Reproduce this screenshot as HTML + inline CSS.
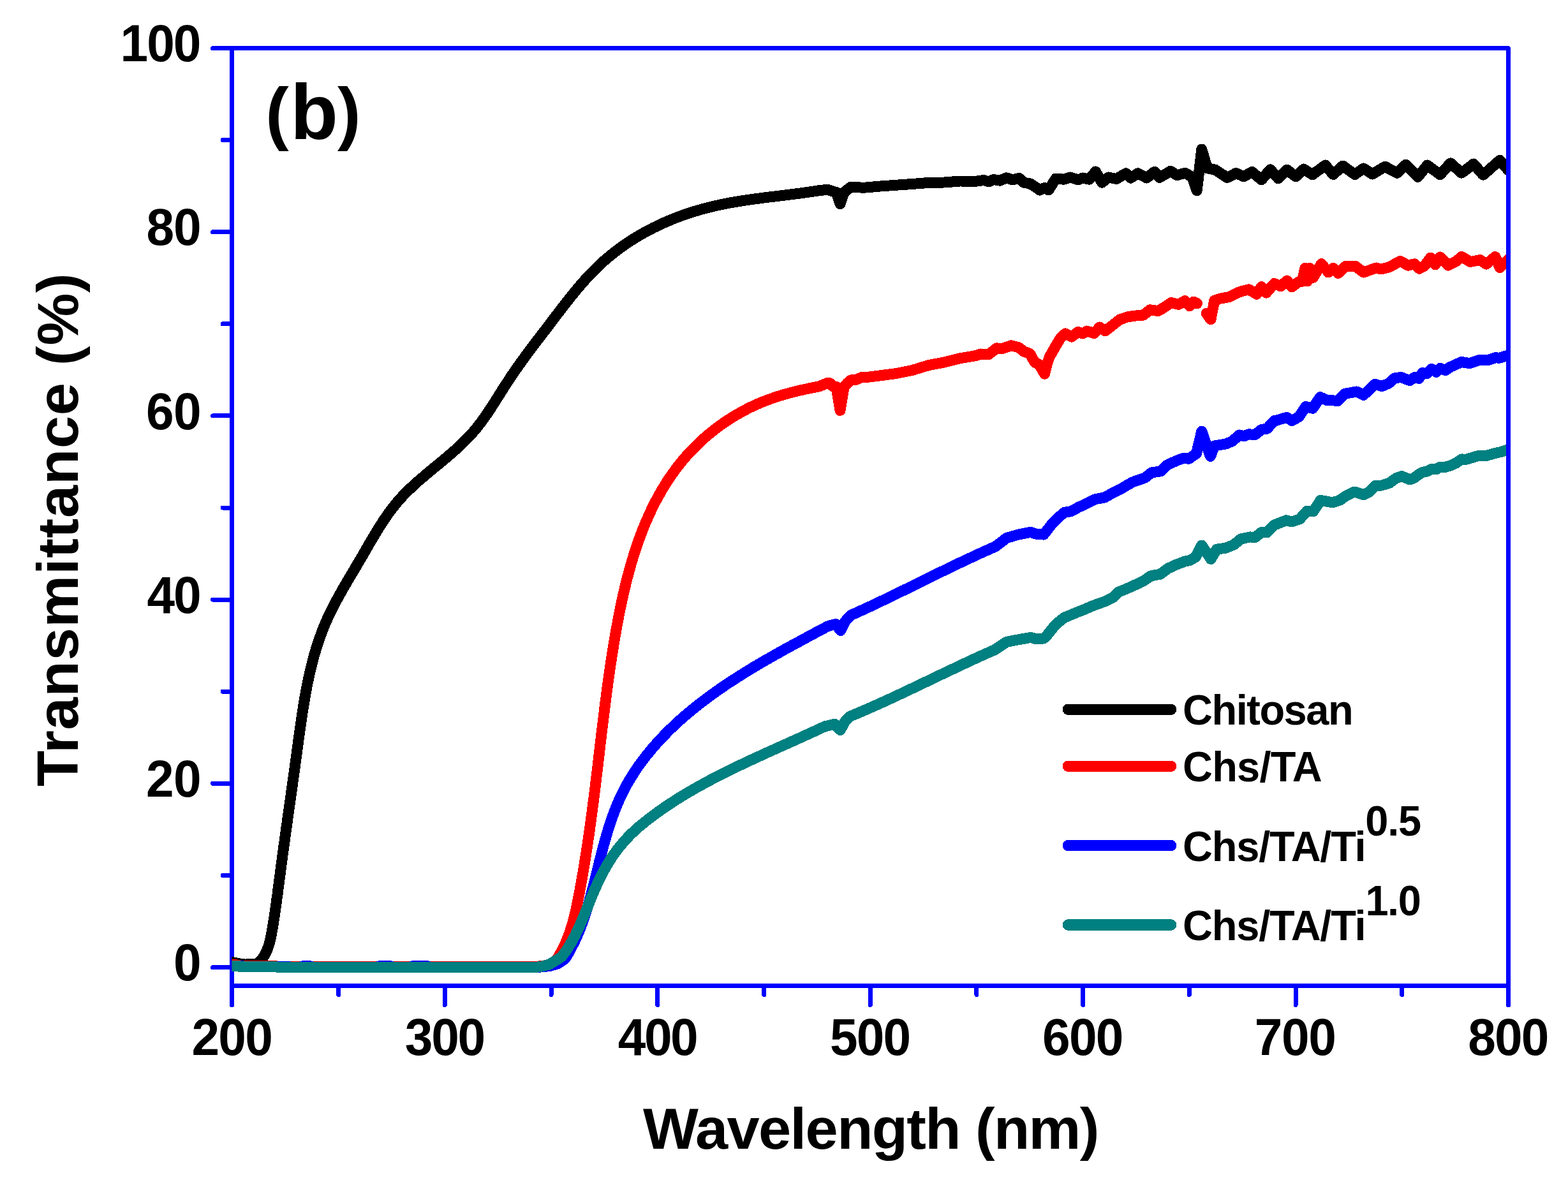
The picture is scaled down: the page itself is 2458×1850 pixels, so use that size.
<!DOCTYPE html>
<html lang="en"><head><meta charset="utf-8"><title>Transmittance vs Wavelength (b)</title>
<style>html,body{margin:0;padding:0;background:#fff;overflow:hidden}svg{display:block}</style></head>
<body>
<svg xmlns="http://www.w3.org/2000/svg" width="2458" height="1850" viewBox="0 0 2458 1850">
<rect width="2458" height="1850" fill="#fff"/>
<path d="M363.5,75.5 V1575.5" stroke="#0000ff" stroke-width="7" stroke-linecap="round" fill="none" shape-rendering="crispEdges"/>
<clipPath id="cp"><rect x="363.5" y="75.5" width="2001.0" height="1470.0"/></clipPath>
<g clip-path="url(#cp)" fill="none" stroke-width="17.0" stroke-linejoin="round" stroke-linecap="round" shape-rendering="crispEdges">
<path d="M363.5,1508.4L372,1510.3L383.5,1512.1L393,1511.6L402.7,1511.8L405,1509.8L407.2,1507.7L409.2,1505.4L411,1503.1L412.7,1500.8L414.2,1498.3L415.7,1495.8L417,1493.2L418.2,1490.6L419.3,1487.9L420.3,1485.2L421.2,1482.4L422.1,1479.6L422.8,1476.7L423.6,1473.8L424.2,1470.9L424.8,1468L425.4,1465L425.9,1462L426.5,1459.1L427,1456.1L427.5,1453.1L428,1450.1L428.5,1447.1L428.9,1444.1L429.4,1441.1L429.9,1438.1L430.3,1435.2L430.8,1432.2L431.2,1429.2L431.6,1426.2L432.1,1423.2L432.5,1420.2L432.9,1417.2L433.3,1414.2L433.7,1411.2L434.1,1408.2L434.6,1405.2L435,1402.2L435.4,1399.2L435.7,1396.2L436.1,1393.2L436.5,1390.2L436.9,1387.2L437.3,1384.2L437.7,1381.2L438.1,1378.2L438.5,1375.2L438.9,1372.2L439.3,1369.2L439.7,1366.2L440,1363.2L440.4,1360.2L440.8,1357.2L441.2,1354.3L441.6,1351.3L442,1348.3L442.4,1345.3L442.8,1342.3L443.2,1339.4L443.6,1336.4L444,1333.4L444.4,1330.4L444.8,1327.4L445.3,1324.5L445.7,1321.5L446.1,1318.5L446.5,1315.6L446.9,1312.6L447.3,1309.6L447.7,1306.6L448.1,1303.7L448.5,1300.7L448.9,1297.7L449.4,1294.8L449.8,1291.8L450.2,1288.8L450.6,1285.9L451,1282.9L451.4,1279.9L451.8,1277L452.3,1274L452.7,1271L453.1,1268.1L453.5,1265.1L453.9,1262.1L454.3,1259.2L454.8,1256.2L455.2,1253.2L455.6,1250.3L456,1247.3L456.4,1244.3L456.8,1241.3L457.3,1238.4L457.7,1235.4L458.1,1232.4L458.5,1229.5L458.9,1226.5L459.3,1223.5L459.7,1220.5L460.2,1217.6L460.6,1214.6L461,1211.6L461.4,1208.6L461.8,1205.7L462.2,1202.7L462.6,1199.7L463,1196.7L463.5,1193.7L463.9,1190.7L464.3,1187.8L464.7,1184.8L465.1,1181.8L465.5,1178.8L465.9,1175.8L466.3,1172.8L466.7,1169.8L467.1,1166.8L467.5,1163.8L467.9,1160.8L468.3,1157.8L468.7,1154.8L469.1,1151.8L469.6,1148.8L470,1145.8L470.4,1142.8L470.8,1139.8L471.2,1136.8L471.7,1133.8L472.1,1130.8L472.5,1127.8L473,1124.8L473.4,1121.8L473.8,1118.9L474.3,1115.9L474.8,1112.9L475.2,1109.9L475.7,1106.9L476.2,1103.9L476.7,1100.9L477.2,1097.9L477.7,1095L478.2,1092L478.7,1089L479.3,1086L479.8,1083.1L480.4,1080.1L480.9,1077.1L481.5,1074.2L482.1,1071.2L482.7,1068.3L483.3,1065.3L483.9,1062.4L484.6,1059.5L485.2,1056.5L485.9,1053.6L486.6,1050.7L487.3,1047.7L488,1044.8L488.7,1041.9L489.4,1039L490.2,1036.1L490.9,1033.2L491.7,1030.3L492.5,1027.5L493.3,1024.6L494.2,1021.7L495,1018.9L495.9,1016L496.8,1013.2L497.7,1010.3L498.6,1007.5L499.6,1004.7L500.6,1001.8L501.5,999L502.6,996.2L503.6,993.4L504.6,990.6L505.7,987.9L506.8,985.1L507.9,982.3L509.1,979.6L510.2,976.8L511.4,974.1L512.6,971.4L513.9,968.6L515.1,965.9L516.4,963.2L517.7,960.5L519,957.8L520.4,955.1L521.7,952.5L523.1,949.8L524.5,947.1L525.9,944.5L527.3,941.8L528.7,939.2L530.1,936.5L531.6,933.9L533.1,931.3L534.5,928.6L536,926L537.5,923.4L539,920.7L540.5,918.1L542.1,915.5L543.6,912.9L545.1,910.3L546.7,907.7L548.2,905.1L549.7,902.4L551.3,899.8L552.8,897.2L554.4,894.6L555.9,892L557.5,889.4L559,886.8L560.6,884.2L562.1,881.6L563.7,878.9L565.2,876.3L566.7,873.7L568.3,871.1L569.8,868.5L571.3,865.8L572.8,863.2L574.4,860.6L575.9,857.9L577.4,855.3L578.9,852.7L580.4,850.1L582,847.5L583.5,844.9L585,842.3L586.6,839.7L588.1,837.1L589.7,834.5L591.2,831.9L592.8,829.4L594.4,826.8L596,824.3L597.6,821.8L599.3,819.2L600.9,816.7L602.6,814.2L604.2,811.8L605.9,809.3L607.6,806.9L609.4,804.4L611.1,802L612.9,799.7L614.7,797.3L616.5,794.9L618.4,792.6L620.2,790.3L622.1,788L624.1,785.7L626,783.5L628,781.3L630,779.1L632,776.9L634.1,774.8L636.2,772.7L638.3,770.5L640.4,768.5L642.6,766.4L644.7,764.3L646.9,762.3L649.1,760.2L651.3,758.2L653.6,756.2L655.8,754.2L658.1,752.3L660.4,750.3L662.7,748.3L665,746.4L667.3,744.4L669.6,742.5L671.9,740.5L674.2,738.6L676.6,736.7L678.9,734.8L681.2,732.8L683.6,730.9L685.9,729L688.2,727.1L690.6,725.1L692.9,723.2L695.2,721.3L697.5,719.3L699.9,717.4L702.2,715.4L704.5,713.4L706.8,711.5L709,709.5L711.3,707.5L713.6,705.5L715.8,703.5L718,701.5L720.2,699.4L722.4,697.4L724.6,695.3L726.7,693.2L728.9,691.1L731,688.9L733.1,686.8L735.1,684.6L737.2,682.4L739.2,680.2L741.2,678L743.1,675.7L745.1,673.4L747,671.1L748.9,668.8L750.7,666.4L752.5,664.1L754.3,661.7L756.1,659.2L757.9,656.8L759.6,654.4L761.3,651.9L763.1,649.4L764.8,646.9L766.4,644.4L768.1,641.9L769.8,639.4L771.4,636.8L773,634.3L774.7,631.8L776.3,629.2L777.9,626.6L779.5,624.1L781.1,621.5L782.7,619L784.3,616.4L785.9,613.8L787.5,611.3L789.2,608.7L790.8,606.2L792.4,603.6L794,601.1L795.7,598.6L797.3,596.1L799,593.6L800.6,591.1L802.3,588.6L804,586.1L805.7,583.6L807.4,581.2L809.1,578.7L810.8,576.3L812.5,573.8L814.3,571.4L816,569L817.7,566.5L819.5,564.1L821.3,561.7L823,559.3L824.8,556.9L826.6,554.5L828.3,552.1L830.1,549.7L831.9,547.3L833.7,544.9L835.5,542.5L837.3,540.2L839.1,537.8L840.9,535.4L842.7,533L844.6,530.6L846.4,528.3L848.2,525.9L850,523.5L851.8,521.1L853.7,518.7L855.5,516.4L857.3,514L859.1,511.6L861,509.2L862.8,506.8L864.6,504.4L866.4,502L868.2,499.6L870.1,497.2L871.9,494.8L873.7,492.4L875.6,490L877.4,487.6L879.2,485.2L881.1,482.8L882.9,480.4L884.8,478L886.6,475.6L888.5,473.2L890.4,470.9L892.2,468.5L894.1,466.1L896,463.8L897.9,461.4L899.8,459.1L901.7,456.7L903.7,454.4L905.6,452.1L907.6,449.8L909.5,447.5L911.5,445.2L913.5,442.9L915.5,440.7L917.5,438.4L919.5,436.2L921.5,434L923.6,431.8L925.6,429.6L927.7,427.5L929.8,425.3L931.9,423.2L934,421.1L936.2,419L938.3,416.9L940.5,414.8L942.7,412.8L944.9,410.8L947.2,408.8L949.4,406.8L951.7,404.9L954,403L956.3,401L958.6,399.2L960.9,397.3L963.3,395.4L965.7,393.6L968,391.8L970.4,390L972.9,388.3L975.3,386.5L977.7,384.8L980.2,383.1L982.7,381.4L985.2,379.7L987.7,378.1L990.2,376.5L992.7,374.9L995.3,373.3L997.8,371.7L1000.4,370.2L1003,368.7L1005.6,367.2L1008.2,365.7L1010.8,364.2L1013.4,362.8L1016.1,361.4L1018.7,360L1021.4,358.6L1024.1,357.2L1026.8,355.9L1029.5,354.6L1032.2,353.3L1034.9,352L1037.6,350.7L1040.4,349.5L1043.1,348.3L1045.9,347.1L1048.7,345.9L1051.4,344.8L1054.2,343.6L1057,342.5L1059.8,341.4L1062.6,340.3L1065.4,339.3L1068.3,338.2L1071.1,337.2L1073.9,336.2L1076.8,335.2L1079.6,334.3L1082.5,333.4L1085.3,332.4L1088.2,331.5L1091.1,330.7L1094,329.8L1096.9,329L1099.7,328.1L1102.6,327.4L1105.5,326.6L1108.4,325.8L1111.4,325.1L1114.3,324.4L1117.2,323.7L1120.1,323L1123,322.3L1126,321.7L1128.9,321L1131.8,320.4L1134.8,319.8L1137.7,319.3L1140.6,318.7L1143.6,318.1L1146.5,317.6L1149.5,317.1L1152.4,316.6L1155.4,316.1L1158.3,315.6L1161.3,315.1L1164.3,314.7L1167.2,314.2L1170.2,313.8L1173.2,313.3L1176.1,312.9L1179.1,312.5L1182.1,312.1L1185.1,311.7L1188,311.3L1191,310.9L1194,310.5L1197,310.1L1200,309.7L1202.9,309.4L1205.9,309L1208.9,308.6L1211.9,308.3L1214.9,307.9L1217.9,307.5L1220.9,307.2L1223.9,306.8L1226.8,306.5L1229.8,306.1L1232.8,305.7L1235.8,305.4L1238.8,305L1241.8,304.6L1244.8,304.2L1247.8,303.9L1250.8,303.5L1253.7,303.1L1256.7,302.7L1259.7,302.3L1262.7,301.9L1265.7,301.5L1268.7,301L1271.6,300.6L1274.6,300.2L1277.6,299.7L1280.6,299.2L1283.6,298.8L1297.1,297.2L1302.3,299L1308.6,301.1L1311.2,301.6L1317,319.7L1322.8,302L1326.3,299L1333.3,293.5L1355,294.2L1380,292L1405,290.2L1430,288.5L1455,286.5L1480,286L1505,284L1530,284.2L1542.5,282.5L1550,285L1557.5,281.5L1567.5,283.2L1577.5,278.8L1587.5,282L1597.5,279.5L1605,286.2L1615,288L1625,294.5L1630,298L1637.5,294.5L1643.8,298L1655,280L1667.5,281.2L1677.5,278L1690,281.8L1697.5,279L1707.5,281.2L1717.5,269L1727.5,286.2L1737.5,278L1750,280.5L1765,271.8L1772.5,279L1783.8,271.8L1797.5,279L1810,269.2L1817.5,278.5L1835,268.2L1845,274.8L1857.5,271.2L1868.8,277.5L1876.2,298.8L1883.8,234L1892.5,263.8L1905,266.2L1923.8,278.5L1937.5,271.5L1950,276.8L1962.5,269.5L1977.5,281.8L1991.2,265.8L2003.8,279.8L2017.5,266.2L2031.2,276.8L2043.8,265.2L2057.5,273.8L2077.5,259L2090,273.5L2105,260L2123.8,273.5L2137.5,264L2151.2,273L2171.2,261.2L2190,271.2L2203.8,258.2L2222.5,277.5L2237.5,259L2257.5,273.8L2273.8,255.8L2291.2,271.2L2310,257L2325,274.2L2351.2,251.2L2364.5,266.9" stroke="#000000"/>
<path d="M363.5,1512.3L369,1512.6L378,1514.1L432,1514.3L434,1515L845,1515L858,1513.3L868.8,1510L870.6,1507.5L872.3,1504.9L874,1502.4L875.6,1499.8L877.1,1497.1L878.6,1494.5L880.1,1491.9L881.5,1489.2L882.9,1486.5L884.2,1483.8L885.4,1481.1L886.6,1478.4L887.8,1475.7L888.9,1472.9L890,1470.1L891.1,1467.4L892.1,1464.6L893.1,1461.8L894,1458.9L894.9,1456.1L895.8,1453.3L896.7,1450.4L897.5,1447.6L898.3,1444.7L899.1,1441.8L899.8,1438.9L900.6,1436L901.3,1433.1L901.9,1430.2L902.6,1427.3L903.3,1424.4L903.9,1421.5L904.5,1418.5L905.1,1415.6L905.7,1412.7L906.3,1409.7L906.9,1406.8L907.4,1403.8L908,1400.9L908.6,1397.9L909.1,1395L909.7,1392L910.2,1389L910.7,1386.1L911.3,1383.1L911.8,1380.1L912.3,1377.2L912.8,1374.2L913.4,1371.2L913.9,1368.2L914.4,1365.3L914.9,1362.3L915.4,1359.3L915.9,1356.3L916.4,1353.3L916.8,1350.4L917.3,1347.4L917.8,1344.4L918.3,1341.4L918.7,1338.4L919.2,1335.4L919.7,1332.4L920.1,1329.4L920.6,1326.4L921,1323.4L921.5,1320.4L921.9,1317.5L922.3,1314.5L922.8,1311.5L923.2,1308.5L923.6,1305.5L924.1,1302.5L924.5,1299.5L924.9,1296.5L925.3,1293.5L925.7,1290.5L926.1,1287.5L926.5,1284.5L926.9,1281.5L927.3,1278.5L927.7,1275.5L928.1,1272.5L928.5,1269.4L928.9,1266.4L929.3,1263.4L929.7,1260.4L930.1,1257.4L930.5,1254.4L930.9,1251.4L931.2,1248.4L931.6,1245.4L932,1242.5L932.4,1239.5L932.7,1236.5L933.1,1233.5L933.5,1230.5L933.8,1227.5L934.2,1224.5L934.6,1221.5L934.9,1218.5L935.3,1215.5L935.6,1212.5L936,1209.5L936.4,1206.5L936.7,1203.6L937.1,1200.6L937.4,1197.6L937.8,1194.6L938.1,1191.6L938.5,1188.6L938.8,1185.7L939.2,1182.7L939.5,1179.7L939.9,1176.7L940.2,1173.8L940.6,1170.8L940.9,1167.8L941.3,1164.8L941.6,1161.9L942,1158.9L942.3,1155.9L942.7,1152.9L943,1150L943.4,1147L943.7,1144L944.1,1141.1L944.5,1138.1L944.8,1135.1L945.2,1132.2L945.5,1129.2L945.9,1126.2L946.3,1123.3L946.6,1120.3L947,1117.3L947.4,1114.4L947.7,1111.4L948.1,1108.4L948.5,1105.5L948.8,1102.5L949.2,1099.5L949.6,1096.6L950,1093.6L950.4,1090.6L950.8,1087.7L951.1,1084.7L951.5,1081.7L951.9,1078.8L952.3,1075.8L952.7,1072.8L953.1,1069.9L953.5,1066.9L954,1063.9L954.4,1061L954.8,1058L955.2,1055L955.6,1052.1L956.1,1049.1L956.5,1046.1L956.9,1043.1L957.4,1040.2L957.8,1037.2L958.3,1034.2L958.7,1031.3L959.2,1028.3L959.7,1025.3L960.1,1022.3L960.6,1019.3L961.1,1016.4L961.6,1013.4L962,1010.4L962.5,1007.4L963,1004.4L963.5,1001.5L964,998.5L964.6,995.5L965.1,992.5L965.6,989.5L966.1,986.5L966.7,983.5L967.2,980.5L967.8,977.5L968.3,974.6L968.9,971.6L969.5,968.6L970,965.6L970.6,962.6L971.2,959.6L971.8,956.6L972.4,953.6L973,950.6L973.7,947.6L974.3,944.7L974.9,941.7L975.6,938.7L976.2,935.7L976.9,932.7L977.6,929.8L978.3,926.8L979,923.8L979.7,920.8L980.4,917.9L981.1,914.9L981.8,912L982.6,909L983.3,906.1L984.1,903.1L984.9,900.2L985.7,897.2L986.5,894.3L987.3,891.4L988.1,888.4L988.9,885.5L989.8,882.6L990.6,879.7L991.5,876.8L992.4,873.9L993.3,871L994.2,868.1L995.1,865.2L996,862.4L997,859.5L998,856.6L998.9,853.8L999.9,850.9L1000.9,848.1L1001.9,845.2L1003,842.4L1004,839.6L1005.1,836.8L1006.1,834L1007.2,831.2L1008.3,828.4L1009.5,825.6L1010.6,822.9L1011.7,820.1L1012.9,817.3L1014.1,814.6L1015.3,811.9L1016.5,809.1L1017.7,806.4L1019,803.7L1020.3,801L1021.5,798.3L1022.8,795.7L1024.2,793L1025.5,790.3L1026.9,787.7L1028.2,785.1L1029.6,782.4L1031,779.8L1032.5,777.2L1033.9,774.7L1035.4,772.1L1036.8,769.5L1038.3,767L1039.9,764.4L1041.4,761.9L1043,759.4L1044.5,756.9L1046.1,754.4L1047.8,751.9L1049.4,749.5L1051.1,747L1052.8,744.6L1054.5,742.2L1056.2,739.8L1057.9,737.4L1059.7,735L1061.5,732.6L1063.3,730.3L1065.1,728L1067,725.6L1068.8,723.3L1070.7,721.1L1072.7,718.8L1074.6,716.5L1076.6,714.3L1078.6,712.1L1080.6,709.9L1082.6,707.7L1084.7,705.5L1086.8,703.3L1088.9,701.2L1091,699.1L1093.1,697L1095.3,694.9L1097.5,692.8L1099.7,690.8L1102,688.7L1104.2,686.7L1106.5,684.7L1108.8,682.8L1111.2,680.8L1113.5,678.9L1115.9,677L1118.2,675.1L1120.6,673.2L1123.1,671.4L1125.5,669.5L1128,667.7L1130.4,665.9L1132.9,664.2L1135.4,662.4L1137.9,660.7L1140.5,659L1143,657.4L1145.6,655.7L1148.2,654.1L1150.8,652.5L1153.4,651L1156,649.4L1158.7,647.9L1161.3,646.4L1164,644.9L1166.7,643.5L1169.4,642.1L1172.1,640.7L1174.8,639.3L1177.5,638L1180.3,636.7L1183,635.4L1185.8,634.2L1188.5,633L1191.3,631.8L1194.1,630.6L1196.9,629.5L1199.7,628.4L1202.5,627.3L1205.4,626.3L1208.2,625.3L1211,624.3L1213.9,623.3L1216.7,622.4L1219.6,621.4L1222.5,620.5L1225.3,619.7L1228.2,618.8L1231.1,618L1234,617.2L1236.9,616.4L1239.8,615.6L1242.7,614.9L1245.6,614.1L1248.5,613.4L1251.4,612.7L1254.3,612L1257.2,611.4L1260.1,610.7L1263.1,610.1L1266,609.5L1268.9,608.9L1271.8,608.3L1274.7,607.7L1277.7,607.1L1280.6,606.5L1283.5,606L1297.1,600.5L1300.8,600.6L1305.8,606L1311,606.3L1317,643.4L1323.2,606.2L1328.5,600.5L1334,595.8L1341.3,595.6L1350.7,591.6L1355,592L1380,588.8L1405,585.5L1430,580.5L1455,572.8L1480,568L1505,561.8L1530,557.5L1537.5,555L1550,555.5L1562.5,545.8L1570,547L1585,541.8L1597.5,545L1605,551.2L1614.5,554.5L1622,567.8L1629,571.5L1637.5,586.2L1641.2,571.5L1645,560L1655,542.5L1662.5,530L1670,523L1680,528L1690,520.5L1697.5,523L1703.8,519L1715,522.5L1723.8,513L1732.5,518.8L1742.5,511.2L1755,501.2L1767.5,496.8L1780,495L1792.5,494L1802.5,485.8L1815,487.5L1820,485L1836.2,474.5L1847.5,477.5L1857.5,471.5L1865,479.8L1871.2,473.2L1876.5,475.8M1891.2,491.2L1898,500.8L1903.8,471.2L1912.5,468.2L1927.5,465.5L1942.5,457.8L1957.5,453.8L1970,461.2L1977.5,449.5L1985,459.2L1997.5,444.5L2007.5,448.8L2017.5,440L2025,450L2035,442.5L2041.2,441.2L2045.8,420.5L2049,441L2053.2,420.5L2058.5,435.2L2071.5,413.5L2082.5,427L2090,420.5L2097.5,428.5L2110,417L2125,417.5L2137.5,427L2157.5,420L2165,422L2177.5,418.8L2195,409.5L2207.5,416.2L2217.5,413.8L2225,421.2L2232.5,417.5L2242.5,404.2L2250,415L2257.5,403L2270,416L2282.5,410L2291.2,402.5L2305,410.5L2320,407.5L2330,414L2343.8,402.5L2351.2,419.5L2364.5,406.7" stroke="#ff0000"/>
<path d="M363.5,1514.4L372,1514.4L373,1514.4L379,1514.4L380,1515.6L473,1516.1L474,1514.9L487,1514.9L488,1516.1L593,1516.1L594,1514.9L613,1514.9L614,1516.1L645,1516.1L646,1514.9L671,1514.9L672,1516.1L847,1516.1L862,1514.6L875,1510.5L885.8,1503.1L887.4,1500.6L889,1498L890.5,1495.4L892,1492.8L893.5,1490.1L894.9,1487.5L896.3,1484.8L897.7,1482.1L899.1,1479.5L900.4,1476.8L901.7,1474.1L902.9,1471.3L904.1,1468.6L905.3,1465.9L906.5,1463.1L907.7,1460.4L908.8,1457.6L909.9,1454.8L911,1452L912,1449.2L913,1446.4L914.1,1443.6L915.1,1440.8L916,1437.9L917,1435.1L917.9,1432.3L918.8,1429.4L919.7,1426.5L920.6,1423.7L921.5,1420.8L922.3,1417.9L923.2,1415L924,1412.1L924.8,1409.3L925.6,1406.3L926.4,1403.4L927.2,1400.5L928,1397.6L928.7,1394.7L929.5,1391.8L930.3,1388.9L931,1385.9L931.7,1383L932.5,1380.1L933.2,1377.1L933.9,1374.2L934.7,1371.2L935.4,1368.3L936.1,1365.4L936.8,1362.4L937.6,1359.5L938.3,1356.5L939,1353.6L939.7,1350.7L940.5,1347.7L941.2,1344.8L942,1341.8L942.7,1338.9L943.5,1336L944.2,1333L945,1330.1L945.8,1327.2L946.6,1324.2L947.4,1321.3L948.2,1318.4L949,1315.5L949.8,1312.6L950.7,1309.7L951.5,1306.8L952.4,1303.9L953.3,1301L954.2,1298.1L955.1,1295.2L956,1292.3L957,1289.5L958,1286.6L958.9,1283.8L959.9,1280.9L961,1278.1L962,1275.3L963.1,1272.5L964.1,1269.7L965.2,1266.9L966.4,1264.1L967.5,1261.3L968.7,1258.6L969.9,1255.8L971.1,1253.1L972.3,1250.4L973.6,1247.6L974.9,1244.9L976.2,1242.3L977.6,1239.6L978.9,1236.9L980.3,1234.3L981.8,1231.7L983.2,1229.1L984.7,1226.5L986.2,1223.9L987.7,1221.3L989.3,1218.7L990.9,1216.2L992.5,1213.7L994.1,1211.2L995.7,1208.7L997.4,1206.2L999.1,1203.7L1000.8,1201.2L1002.6,1198.8L1004.3,1196.4L1006.1,1194L1007.9,1191.6L1009.7,1189.2L1011.5,1186.8L1013.4,1184.4L1015.3,1182.1L1017.2,1179.8L1019.1,1177.5L1021,1175.2L1022.9,1172.9L1024.9,1170.6L1026.9,1168.3L1028.9,1166.1L1030.9,1163.9L1032.9,1161.7L1034.9,1159.5L1037,1157.3L1039,1155.1L1041.1,1152.9L1043.2,1150.8L1045.3,1148.7L1047.4,1146.5L1049.5,1144.4L1051.7,1142.3L1053.9,1140.3L1056,1138.2L1058.2,1136.1L1060.4,1134.1L1062.6,1132.1L1064.8,1130L1067.1,1128L1069.3,1126.1L1071.6,1124.1L1073.9,1122.1L1076.1,1120.1L1078.4,1118.2L1080.7,1116.3L1083.1,1114.3L1085.4,1112.4L1087.7,1110.5L1090.1,1108.6L1092.4,1106.8L1094.8,1104.9L1097.2,1103L1099.6,1101.2L1102,1099.4L1104.4,1097.5L1106.8,1095.7L1109.2,1093.9L1111.6,1092.1L1114.1,1090.3L1116.5,1088.5L1119,1086.8L1121.4,1085L1123.9,1083.3L1126.4,1081.5L1128.9,1079.8L1131.4,1078.1L1133.9,1076.4L1136.4,1074.7L1138.9,1073L1141.4,1071.3L1144,1069.6L1146.5,1068L1149,1066.3L1151.6,1064.7L1154.1,1063L1156.7,1061.4L1159.3,1059.8L1161.8,1058.1L1164.4,1056.5L1167,1054.9L1169.6,1053.3L1172.1,1051.7L1174.7,1050.2L1177.3,1048.6L1179.9,1047L1182.5,1045.4L1185.1,1043.9L1187.7,1042.3L1190.4,1040.8L1193,1039.3L1195.6,1037.7L1198.2,1036.2L1200.8,1034.7L1203.5,1033.2L1206.1,1031.7L1208.7,1030.2L1211.3,1028.7L1214,1027.2L1216.6,1025.7L1219.2,1024.2L1221.9,1022.8L1224.5,1021.3L1227.1,1019.8L1229.8,1018.4L1232.4,1016.9L1235,1015.5L1237.7,1014L1240.3,1012.6L1242.9,1011.2L1245.6,1009.7L1248.2,1008.3L1250.8,1006.9L1253.5,1005.5L1256.1,1004L1258.7,1002.6L1261.3,1001.2L1263.9,999.8L1266.6,998.4L1269.2,997L1271.8,995.6L1274.4,994.2L1277,992.8L1279.6,991.4L1282.2,990L1284.8,988.7L1287.4,987.3L1290,985.9L1292.6,984.5L1295.2,983.1L1297.7,981.8L1310,978.4L1317.6,988.6L1324.6,974.6L1333.5,964.7L1336.3,963.5L1339.1,962.2L1341.9,960.9L1344.7,959.7L1347.5,958.4L1350.3,957.1L1353.1,955.8L1355.8,954.6L1358.6,953.3L1361.4,952L1364.2,950.7L1366.9,949.4L1369.7,948.1L1372.5,946.8L1375.2,945.5L1378,944.1L1380.8,942.8L1383.5,941.5L1386.3,940.2L1389,938.9L1391.8,937.5L1394.6,936.2L1397.3,934.9L1400.1,933.5L1402.8,932.2L1405.6,930.8L1408.3,929.5L1411.1,928.2L1413.8,926.8L1416.6,925.5L1419.3,924.1L1422.1,922.8L1424.8,921.4L1427.6,920.1L1430.3,918.7L1433.1,917.4L1435.8,916L1438.6,914.6L1441.3,913.3L1444.1,911.9L1446.8,910.6L1449.6,909.2L1452.3,907.9L1455.1,906.5L1457.8,905.2L1460.6,903.8L1463.3,902.5L1466.1,901.1L1468.8,899.8L1471.6,898.4L1474.3,897.1L1477.1,895.7L1479.8,894.4L1482.6,893.1L1485.3,891.7L1488.1,890.4L1490.8,889L1493.6,887.7L1496.4,886.4L1499.1,885.1L1501.9,883.7L1504.7,882.4L1507.4,881.1L1510.2,879.8L1513,878.5L1515.7,877.2L1518.5,875.9L1521.3,874.6L1524.1,873.3L1526.8,872L1529.6,870.7L1532.4,869.4L1535.2,868.1L1538,866.9L1540.8,865.6L1543.6,864.3L1546.3,863.1L1549.1,861.8L1551.9,860.6L1554.7,859.3L1557.6,858.1L1560.4,856.8L1578,843.5L1596.2,838.1L1616,834.3L1623.3,837L1636,838.1L1641.4,831.4L1650.4,819.7L1659.5,811L1668.5,803.4L1679.3,801.6L1690.2,795.6L1704.7,788.6L1717.3,782.6L1731.8,779.9L1740.8,774.8L1755.3,767.6L1775,756L1795,749L1805,741L1820,738.8L1830,728.8L1845,722L1855,718.5L1863.8,719.2L1875.5,711L1883.8,676.2L1897.5,715.5L1903.8,699L1922.5,695.8L1932.5,691.2L1942.5,682L1950,683.8L1957.5,680.8L1967.5,681.5L1977.5,673.5L1986.2,672.2L1997.5,659.5L2000,659.5L2017.2,654.3L2025.3,659.7L2036.2,653.4L2047,637.6L2057.9,640.2L2069.6,622.6L2079.6,627.3L2097.6,628.4L2108.5,617.2L2126.6,614L2137.4,619.4L2155.5,602.4L2166.4,605.5L2177.2,600.9L2186.3,592.8L2196.2,591.5L2209.8,596.6L2217.9,591.5L2224.2,593.3L2229.7,584.7L2236.9,585.6L2244.1,578.3L2251.4,583.2L2257.7,577.4L2265.8,580.5L2273.1,575.6L2291.1,567.5L2303.8,569.7L2318.3,564.6L2332.7,564.8L2343.6,560.8L2350.8,561.2L2363.5,557.2" stroke="#0000ff"/>
<path d="M363.5,1514.5L374,1514.5L376,1515.5L432,1515.5L434,1516.1L843,1516.1L852,1514.6L862,1511.5L872,1505.5L880.7,1499.7L882.5,1497.3L884.3,1494.9L886.1,1492.5L887.8,1490.1L889.4,1487.6L891,1485.1L892.6,1482.5L894.1,1480L895.7,1477.4L897.1,1474.8L898.6,1472.1L900,1469.5L901.4,1466.8L902.7,1464.1L904,1461.4L905.3,1458.7L906.6,1456L907.9,1453.2L909.1,1450.5L910.3,1447.7L911.6,1444.9L912.7,1442.1L913.9,1439.3L915.1,1436.5L916.3,1433.7L917.4,1430.9L918.6,1428L919.7,1425.2L920.9,1422.4L922,1419.5L923.2,1416.7L924.3,1413.9L925.4,1411L926.6,1408.2L927.8,1405.4L928.9,1402.6L930.1,1399.7L931.3,1396.9L932.5,1394.1L933.8,1391.3L935,1388.6L936.3,1385.8L937.5,1383L938.8,1380.3L940.2,1377.5L941.5,1374.8L942.9,1372.1L944.3,1369.4L945.7,1366.8L947.2,1364.1L948.6,1361.5L950.1,1358.8L951.6,1356.2L953.2,1353.6L954.8,1351.1L956.4,1348.5L958,1346L959.6,1343.5L961.3,1341L963,1338.5L964.8,1336.1L966.5,1333.7L968.3,1331.3L970.2,1328.9L972,1326.6L973.9,1324.3L975.9,1322L977.8,1319.7L979.8,1317.5L981.8,1315.3L983.9,1313.1L986,1311L988.1,1308.8L990.2,1306.7L992.4,1304.7L994.6,1302.6L996.8,1300.6L999.1,1298.6L1001.3,1296.6L1003.6,1294.6L1005.9,1292.7L1008.3,1290.8L1010.6,1288.9L1013,1287L1015.3,1285.1L1017.7,1283.3L1020.1,1281.4L1022.6,1279.6L1025,1277.8L1027.4,1276L1029.9,1274.3L1032.3,1272.5L1034.8,1270.7L1037.3,1269L1039.7,1267.3L1042.2,1265.6L1044.7,1263.9L1047.2,1262.2L1049.7,1260.5L1052.3,1258.9L1054.8,1257.2L1057.3,1255.6L1059.9,1253.9L1062.4,1252.3L1065,1250.7L1067.6,1249.1L1070.2,1247.6L1072.7,1246L1075.3,1244.4L1077.9,1242.9L1080.5,1241.4L1083.1,1239.8L1085.8,1238.3L1088.4,1236.8L1091,1235.3L1093.6,1233.8L1096.3,1232.3L1098.9,1230.9L1101.6,1229.4L1104.3,1228L1106.9,1226.5L1109.6,1225.1L1112.3,1223.7L1114.9,1222.2L1117.6,1220.8L1120.3,1219.4L1123,1218L1125.7,1216.6L1128.4,1215.3L1131.1,1213.9L1133.8,1212.5L1136.5,1211.2L1139.2,1209.8L1142,1208.5L1144.7,1207.1L1147.4,1205.8L1150.1,1204.5L1152.9,1203.1L1155.6,1201.8L1158.3,1200.5L1161.1,1199.2L1163.8,1197.9L1166.6,1196.6L1169.3,1195.3L1172.1,1194L1174.8,1192.7L1177.6,1191.4L1180.3,1190.2L1183.1,1188.9L1185.8,1187.6L1188.6,1186.3L1191.4,1185.1L1194.1,1183.8L1196.9,1182.6L1199.6,1181.3L1202.4,1180L1205.2,1178.8L1207.9,1177.5L1210.7,1176.3L1213.4,1175.1L1216.2,1173.8L1219,1172.6L1221.7,1171.3L1224.5,1170.1L1227.2,1168.8L1230,1167.6L1232.8,1166.4L1235.5,1165.1L1238.3,1163.9L1241,1162.7L1243.8,1161.4L1246.5,1160.2L1249.3,1158.9L1252,1157.7L1254.8,1156.5L1257.5,1155.2L1260.2,1154L1263,1152.7L1265.7,1151.5L1268.4,1150.2L1271.2,1149L1273.9,1147.7L1276.6,1146.5L1279.3,1145.2L1282,1144L1284.7,1142.7L1287.5,1141.4L1290.2,1140.2L1292.9,1138.9L1308.5,1135.2L1317.3,1144.6L1324.3,1131.6L1331.4,1123.7L1334.2,1122.5L1337,1121.3L1339.9,1120.1L1342.7,1118.9L1345.5,1117.7L1348.4,1116.5L1351.2,1115.3L1354,1114.1L1356.8,1112.9L1359.6,1111.7L1362.4,1110.4L1365.2,1109.2L1368,1108L1370.8,1106.7L1373.6,1105.5L1376.4,1104.2L1379.2,1102.9L1382,1101.7L1384.8,1100.4L1387.6,1099.1L1390.4,1097.8L1393.2,1096.6L1396,1095.3L1398.8,1094L1401.6,1092.7L1404.3,1091.4L1407.1,1090.1L1409.9,1088.8L1412.7,1087.5L1415.5,1086.2L1418.2,1084.9L1421,1083.6L1423.8,1082.3L1426.6,1080.9L1429.3,1079.6L1432.1,1078.3L1434.9,1077L1437.6,1075.7L1440.4,1074.3L1443.2,1073L1446,1071.7L1448.7,1070.4L1451.5,1069L1454.3,1067.7L1457,1066.4L1459.8,1065.1L1462.6,1063.7L1465.3,1062.4L1468.1,1061.1L1470.9,1059.7L1473.6,1058.4L1476.4,1057.1L1479.2,1055.8L1482,1054.4L1484.7,1053.1L1487.5,1051.8L1490.3,1050.5L1493.1,1049.2L1495.8,1047.9L1498.6,1046.5L1501.4,1045.2L1504.2,1043.9L1506.9,1042.6L1509.7,1041.3L1512.5,1040L1515.3,1038.7L1518.1,1037.4L1520.8,1036.1L1523.6,1034.8L1526.4,1033.5L1529.2,1032.3L1532,1031L1534.8,1029.7L1537.6,1028.4L1540.4,1027.2L1543.2,1025.9L1546,1024.6L1548.8,1023.4L1551.6,1022.1L1554.4,1020.9L1557.2,1019.7L1560,1018.4L1578,1006.3L1596.2,1002.9L1616,999.4L1623.3,1001.6L1636,1001L1641.4,996L1650.4,984.6L1659.5,975.2L1668.5,968.3L1686.6,960.7L1701,955L1713.7,949.5L1731.8,943L1744.5,936.9L1753.5,928.2L1768,922.2L1786,914.1L1795,909.2L1804,902.9L1818.6,900.3L1831.2,891.1L1842,886L1856.6,880.4L1865.6,878.4L1874.6,873L1883.7,855.1L1898.2,876.5L1907.2,861.3L1921.7,859.1L1934.3,854L1945.2,845L1959.8,841.9L1967.5,842.5L1977.5,834.5L1986.2,834.8L1997.5,823.2L2016.2,815.8L2025,818L2037.5,813.8L2048.8,801.2L2058.8,801.8L2070,784.5L2087.5,787.5L2090,787.6L2100.1,784.3L2109,778.2L2123,771L2138,775.7L2147,771L2155.8,761.5L2166,761L2178.6,757L2188.7,749.5L2197.6,746.7L2210.3,752L2216.6,749.5L2222.9,744.8L2229.2,740.6L2236.8,739L2244.4,735.2L2252,735.6L2257.1,732.2L2264.7,732.5L2273.5,730.1L2282.4,726.1L2291.3,719.9L2297.6,720.4L2307.7,717.6L2317.8,714.4L2330.5,714.3L2343.2,710.6L2353.3,708.4L2364.5,704.5" stroke="#008080"/>
</g>
<g stroke="#0000ff" stroke-width="7" fill="none" stroke-linecap="round" shape-rendering="crispEdges">
<path d="M2364.5,75.5 V1575.5" />
<path d="M333.5,75.5 H2364.5" />
<path d="M363.5,1545.5 H2364.5" />
<path d="M530.71,1549.0 V1559.5"/>
<path d="M697.42,1549.0 V1575.5"/>
<path d="M864.12,1549.0 V1559.5"/>
<path d="M1030.83,1549.0 V1575.5"/>
<path d="M1197.54,1549.0 V1559.5"/>
<path d="M1364.25,1549.0 V1575.5"/>
<path d="M1530.96,1549.0 V1559.5"/>
<path d="M1697.67,1549.0 V1575.5"/>
<path d="M1864.38,1549.0 V1559.5"/>
<path d="M2031.08,1549.0 V1575.5"/>
<path d="M2197.79,1549.0 V1559.5"/>
<path d="M333.5,1516.50 H360.0"/>
<path d="M349.0,1372.40 H360.0"/>
<path d="M333.5,1228.30 H360.0"/>
<path d="M349.0,1084.20 H360.0"/>
<path d="M333.5,940.10 H360.0"/>
<path d="M349.0,796.00 H360.0"/>
<path d="M333.5,651.90 H360.0"/>
<path d="M349.0,507.80 H360.0"/>
<path d="M333.5,363.70 H360.0"/>
<path d="M349.0,219.60 H360.0"/>
</g>
<g font-family="'Liberation Sans', Arial, sans-serif" font-weight="bold" fill="#000">
<text transform="translate(300.46,1654) scale(0.9596,1)" font-size="81.7" letter-spacing="-1.797">200</text>
<text transform="translate(634.66,1654) scale(0.9596,1)" font-size="81.7" letter-spacing="-2.205">300</text>
<text transform="translate(968.86,1654) scale(0.9596,1)" font-size="81.7" letter-spacing="-2.614">400</text>
<text transform="translate(1301.1,1654) scale(0.9596,1)" font-size="81.7" letter-spacing="-2.001">500</text>
<text transform="translate(1634.12,1654) scale(0.9596,1)" font-size="81.7" letter-spacing="-1.797">600</text>
<text transform="translate(1966.76,1654) scale(0.9596,1)" font-size="81.7" letter-spacing="-1.388">700</text>
<text transform="translate(2301.35,1654) scale(0.9596,1)" font-size="81.7" letter-spacing="-2.001">800</text>
<text transform="translate(272.02,1537.2) scale(0.9596,1)" font-size="81.7">0</text>
<text transform="translate(229.06,1249) scale(0.9596,1)" font-size="81.7" letter-spacing="-0.567">20</text>
<text transform="translate(230.62,960.8) scale(0.9596,1)" font-size="81.7" letter-spacing="-2.201">40</text>
<text transform="translate(229.06,672.6) scale(0.9596,1)" font-size="81.7" letter-spacing="-0.567">60</text>
<text transform="translate(229.45,384.4) scale(0.9596,1)" font-size="81.7" letter-spacing="-0.975">80</text>
<text transform="translate(188.6,96.2) scale(0.9596,1)" font-size="81.7" letter-spacing="-2.082">100</text>
<text transform="translate(1008.1,1800.8) scale(1.0110,1)" font-size="91" letter-spacing="-1.585">Wavelength (nm)</text>
<text transform="translate(122,1232.92) rotate(-90) scale(1.0110,1)" font-size="91" letter-spacing="0.751">Transmittance (%)</text>
<text><tspan x="416.31" y="213.73" font-size="109.7">(</tspan><tspan x="455.16" y="217.7" font-size="122.2">b</tspan><tspan x="529.04" y="213.73" font-size="109.7">)</tspan></text>
<path d="M1674.3,1112.2 H1835.6" stroke="#000000" stroke-width="17.4" stroke-linecap="round" fill="none" shape-rendering="crispEdges"/>
<text transform="translate(1854,1135.9) scale(0.9701,1)" font-size="67" letter-spacing="-1.528">Chitosan</text>
<path d="M1674.3,1201.2 H1835.6" stroke="#ff0000" stroke-width="17.4" stroke-linecap="round" fill="none" shape-rendering="crispEdges"/>
<text transform="translate(1854,1224.6) scale(0.9701,1)" font-size="67" letter-spacing="-0.804">Chs/TA</text>
<path d="M1674.3,1325.6 H1835.6" stroke="#0000ff" stroke-width="17.4" stroke-linecap="round" fill="none" shape-rendering="crispEdges"/>
<text transform="translate(1854,1349.5) scale(0.9701,1)" font-size="67" letter-spacing="-1.253">Chs/TA/Ti</text>
<text transform="translate(2140.3,1310.4) scale(0.9701,1)" font-size="67" letter-spacing="-1.340">0.5</text>
<path d="M1674.3,1450.0 H1835.6" stroke="#008080" stroke-width="17.4" stroke-linecap="round" fill="none" shape-rendering="crispEdges"/>
<text transform="translate(1854,1473.7) scale(0.9701,1)" font-size="67" letter-spacing="-1.253">Chs/TA/Ti</text>
<text transform="translate(2140.47,1435.2) scale(0.9701,1)" font-size="67" letter-spacing="-1.559">1.0</text>
</g>
</svg>
</body></html>
